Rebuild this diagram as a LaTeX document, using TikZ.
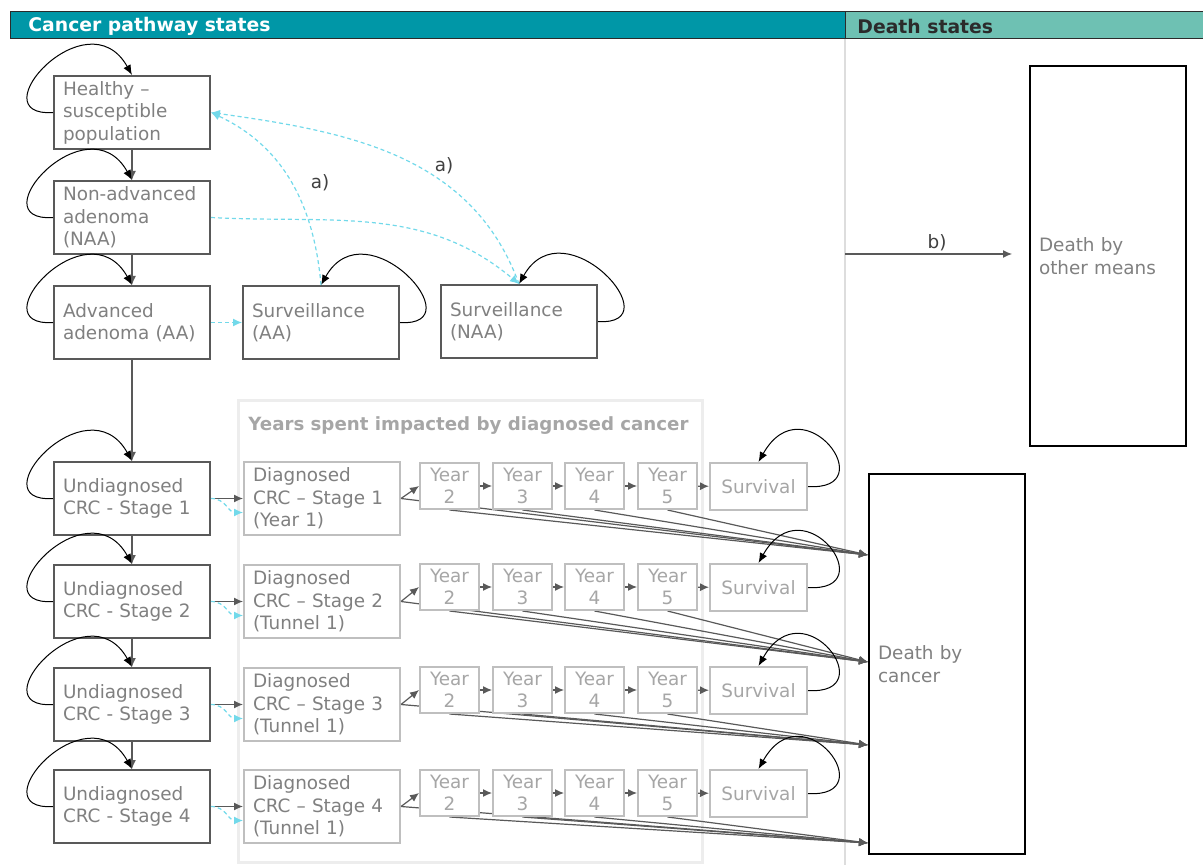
\documentclass[tikz,border=0pt]{standalone}
\usepackage{fontspec}
\setmainfont{DejaVu Sans}
\definecolor{headcolor}{HTML}{0097A7}
\definecolor{deathcolor}{HTML}{6EC1B3}
\definecolor{headline}{HTML}{2B2B2B}
\definecolor{boxgray}{HTML}{595959}
\definecolor{textgray}{HTML}{808080}
\definecolor{yearline}{HTML}{BFBFBF}
\definecolor{yeartext}{HTML}{A6A6A6}
\definecolor{framecolor}{HTML}{EDEDED}
\definecolor{dividercolor}{HTML}{DDDDDD}
\definecolor{dashcolor}{HTML}{72D9EA}
\definecolor{labelcolor}{HTML}{404040}
\usepackage{tikz}
\usetikzlibrary{arrows.meta,backgrounds}

\begin{document}
\begin{tikzpicture}[x=0.5pt, y=0.5pt, font=\fontsize{9.2}{11.25}\selectfont]

    \tikzset{%
        statebox/.style={draw=boxgray, line width=1pt, fill=white, text=textgray,
                anchor=north west, align=left, text width=69pt, inner xsep=4.5pt,
                inner ysep=0pt, minimum height=36.5pt},
        diagbox/.style={statebox, draw=yearline},
        deathbox/.style={statebox, draw=black, minimum height=190pt},
        yearbox/.style={draw=yearline, line width=1pt, fill=white, text=yeartext,
                anchor=north west, align=center, inner sep=0pt,
                minimum width=29.5pt, minimum height=23pt},
        survbox/.style={yearbox, minimum width=48.5pt, minimum height=23.5pt},
        arr/.style={draw=boxgray, line width=0.6pt, -{Latex[length=4.5pt,width=4pt]}},
        dashline/.style={draw=dashcolor, line width=0.6pt, dash pattern=on 2pt off 1.5pt,
                -{Latex[length=4.5pt,width=4pt]}},
        loopl/.style={draw=black, line width=0.5pt, -{Latex[length=5pt,width=4pt]},
                to path={.. controls +(-76,-5) and +(-45,80) .. (\tikztotarget)}},
        loopr/.style={draw=black, line width=0.5pt, -{Latex[length=5pt,width=4pt]},
                to path={.. controls +(76,-5) and +(45,80) .. (\tikztotarget)}},
        headtext/.style={anchor=west, inner sep=0pt, font=\fontsize{9.4}{11.25}\selectfont\bfseries},
    }

    \useasboundingbox (0,0) rectangle (1203,-865);

    % headers
    \draw[headline, fill=headcolor, line width=0.5pt] (10,-12) rectangle (845,-39);
    \draw[headline, fill=deathcolor, line width=0.5pt] (845,-12) rectangle (1210,-39);
    \node[headtext, text=white] (cancerhead) at (28,-26) {Cancer pathway states};
    \node[headtext, text=headline] (deathhead) at (857,-26) {Death states};

    \node[headtext, text=yeartext, font=\fontsize{9.1}{11.25}\selectfont\bfseries] (yearstitle) at (248,-426)
    {Years spent impacted by diagnosed cancer};

    % states
    \node[statebox] (healthy) at (53,-75) {Healthy –\\susceptible\\population};
    \node[statebox] (naa) at (53,-180) {Non-advanced\\adenoma\\(NAA)};
    \node[statebox] (aa) at (53,-285) {Advanced\\adenoma (AA)};
    \node[statebox] (survaa) at (242,-285) {Surveillance\\(AA)};
    \node[statebox] (survnaa) at (440,-284) {Surveillance\\(NAA)};

    \node[deathbox] (dother) at (1029,-65) {Death by\\other means};
    \node[deathbox] (dcancer) at (868,-473) {Death by\\cancer};

    \foreach \i/\rtop/\ytop/\dtop/\tag in {1/461/462/555/Year 1, 2/564/563/662/Tunnel 1,
            3/667/666/745/Tunnel 1, 4/769/769/843/Tunnel 1} {%
            \node[statebox] (undiag\i) at (53,-\rtop) {Undiagnosed\\CRC - Stage \i};
            \node[diagbox] (diag\i) at (243,-\rtop) {Diagnosed\\CRC – Stage \i\\(\tag)};
            \foreach \k/\x in {2/419, 3/492, 4/564, 5/637} {%
                    \node[yearbox] (y\k-\i) at (\x,-\ytop) {Year\\\k};
                }
            \node[survbox] (surv\i) at (709,-\ytop) {Survival};
            \coordinate (dc\i) at (868,-\dtop);
        }

    \begin{scope}[on background layer]
        \draw[framecolor, line width=1.5pt] (238,-401) rectangle (702,-862);
        \draw[dividercolor, line width=1pt] (845,-39) -- (845,-865);
        \foreach \i in {1,...,4} {%
                \draw[arr] (diag\i.east) -- (dc\i);
                \foreach \k in {2,...,5} {%
                        \draw[arr] (y\k-\i.south) -- (dc\i);
                    }
            }
    \end{scope}

    % transitions
    \draw[arr] (healthy.south) -- (naa.north);
    \draw[arr] (naa.south) -- (aa.north);
    \draw[arr] (aa.south) -- (undiag1.north);
    \foreach \i/\j in {1/2, 2/3, 3/4} {%
            \draw[arr] (undiag\i.south) -- (undiag\j.north);
        }

    \foreach \n in {healthy, naa, aa, undiag1, undiag2, undiag3, undiag4} {%
            \draw[loopl] (\n.west) to (\n.north);
        }
    \foreach \n in {survaa, survnaa, surv1, surv2, surv3, surv4} {%
            \draw[loopr] (\n.east) to (\n.north);
        }

    \foreach \i in {1,...,4} {%
            \draw[arr] (undiag\i.east) -- (diag\i.west);
            \draw[dashline] (undiag\i.east) .. controls +(15,0) and +(-15,0) .. ([yshift=-7pt]diag\i.west);
            \draw[arr] (diag\i.east) -- (y2-\i.west);
            \draw[arr] (y2-\i) -- (y3-\i);
            \draw[arr] (y3-\i) -- (y4-\i);
            \draw[arr] (y4-\i) -- (y5-\i);
            \draw[arr] (y5-\i) -- (surv\i);
        }

    % surveillance
    \draw[dashline] (aa.east) -- (survaa.west);
    \draw[dashline] (naa.east) to[out=-3, in=140] (survnaa.north);
    \draw[dashline] (survaa.north) to[out=95, in=-25] (healthy.east);
    \draw[dashline] (survnaa.north) to[out=110, in=-8] (healthy.east);
    \node[text=labelcolor] (alabel1) at (320,-183) {a)};
    \node[text=labelcolor] (alabel2) at (444,-166) {a)};

    % other causes
    \coordinate (bstart) at (845,-254);
    \draw[arr, shorten >=8.5pt] (bstart) -- (bstart -| dother.west)
    node[midway, above=1pt, inner sep=0pt, text=labelcolor] (blabel) {b)};

\end{tikzpicture}
\end{document}
